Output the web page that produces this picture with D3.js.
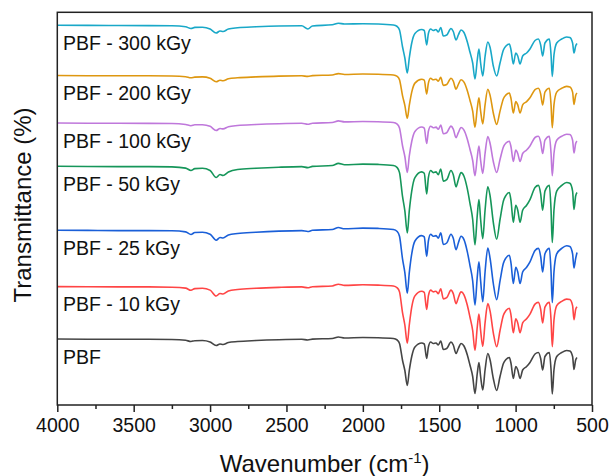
<!DOCTYPE html>
<html lang="en">
  <meta charset="utf-8" />
  <head>
    <title>PBF FTIR</title>
    <script src="https://cdn.jsdelivr.net/npm/d3@7"></script>
    <style>
      body { margin: 0; background: #fff; }
      text { font-family: Arial, "Liberation Sans", sans-serif; fill: #111; }
    </style>
  </head>
  <body>
  <script>
    // DATA
    var wavenumbers = [4000,3800,3600,3400,3250,3160,3125,3100,3050,3000,2960,2935,2915,2880,2820,2700,2550,2400,2360,2330,2200,2160,2120,2000,1900,1800,1775,1760,1740,1725,1709,1696,1680,1659,1615,1598,1582,1571,1556,1539,1521,1506,1490,1473,1451,1423,1408,1390,1375,1357,1338,1316,1299,1281,1266,1251,1240,1229,1215,1200,1182,1167,1146,1124,1102,1080,1063,1041,1030,1015,999,986,971,954,928,906,873,851,836,823,808,779,768,760,749,731,698,666,645,627,618,607,598];

    var t300 = [99.8,99.6,99.5,99.4,99.2,98.2,96.5,97.6,97.8,96,
                92,94,93.5,96,97.2,98.2,99,99.2,96,99,
                100.2,101.8,101,101.2,101,100,98.5,95,78,67,
                52,67,82,91.5,95.5,94.5,80,91.5,96,94.5,
                95.5,93,97.5,89,90,96.5,93.5,85,90,95,
                92.5,83,73,62,46,65,76,62,49,68.5,
                83,77.5,59,49,62,75,79,81,75,61,
                72,69,61,69,72,76,84.5,86,80,69,
                82,86,70,48.5,70,82,86,88,87.5,82,
                72,79,81.5];
    var t200 = [99.5,99.3,99.2,99.2,99.0,98.3,97.2,97.9,98.1,96.7,
                93.3,94.8,94.3,96.2,97.2,98.1,98.9,99.2,98.6,99.4,
                100,101.4,100.5,101,100.8,100,98.6,95.2,79.1,69.6,
                56.7,69.6,82.9,91.9,95.7,94.8,81,91.9,96.7,95.2,
                95.7,93.8,97.6,89.6,90.5,96.7,93.8,85.8,90.5,95.2,
                92.9,84.3,74.8,63.9,47.8,66.8,77.2,63.9,51.1,70.1,
                85.8,79.6,62,50.6,63.9,76.3,80.1,82,76.3,62,
                73.4,70.1,62,70.1,73.4,77.2,85.3,86.7,81,70.1,
                82.9,86.7,70.1,47.3,70.1,82.9,86.7,88.6,88.1,82.9,
                70.5,79.6,82];
    var t100 = [99.5,99.3,99.2,99.1,99.0,98.0,96.8,97.7,97.8,96.2,
                92,94,93.6,95.8,97,98,98.8,99.2,98.2,99.3,
                100,101.6,100.6,101,100.8,100,98.4,94.5,76.5,66,
                50,66.5,81,91,95.5,94.3,79,91.3,96.3,94.8,
                95.4,93.2,97.4,88.8,89.8,96.4,93.4,84.8,89.8,95,
                92.4,83.3,73.3,62,46.7,65.5,76.5,62,49,69,
                86,79,61,50,63,75.5,79.5,81.3,75.5,61,
                72.5,69,61,69,72.5,76.5,85,86.3,80.5,69,
                82.3,86.3,69,46.7,69,82.3,86.3,88.3,88,82.3,
                69.5,79,81.3];
    var t50 = [99.3,99.0,98.9,98.9,98.6,97.4,95,96.9,97.2,95,
               88,91,90,93.5,96,97.2,98.3,98.9,97.9,99.1,
               100,102.1,100.7,101.4,101.1,100,97.9,92.9,68.8,54.6,
               32.5,54.6,74.4,87.9,93.6,92.2,71.6,87.9,95,92.9,
               93.6,90.8,96.4,84.4,85.8,95,90.8,78.7,85.8,92.9,
               89.3,76.6,62.4,46,20.7,50.3,65.9,46,26.9,55.3,
               78.7,69.5,43.2,26.2,46,64.5,70.2,73,64.5,43.2,
               60.2,55.3,43.2,55.3,60.2,65.9,78,80.1,71.6,55.3,
               74.4,80.1,55.3,23,55.3,74.4,80.1,83,82.2,74.4,
               56,69.5,73];
    var t25 = [99.3,99.1,98.9,98.9,98.7,97.6,95,97,97.3,95.3,
               89.3,92,91.5,94.5,96,97.3,98.4,98.9,98,99.2,
               100,102,100.7,101.4,101.1,100,98,93.2,70.3,56.8,
               36.2,56.8,75.7,88.5,93.9,92.6,73,88.5,95.3,93.2,
               93.9,91.2,96.6,85.1,86.5,95.3,91.2,79.7,86.5,93.2,
               89.9,77.7,64.2,48.7,24.5,52.7,67.6,48.7,27.8,57.5,
               81.5,71,46,29.8,48.7,66.2,71.6,74.3,66.2,46,
               62.2,57.5,46,57.5,62.2,67.6,79.1,81.1,73,57.5,
               75.7,81.1,57.5,27,57.5,75.7,81.1,83.8,83.1,75.7,
               61.5,71,77];
    var t10 = [99.4,99.2,99.1,99.1,98.8,97.9,95.7,97.4,97.7,95.9,
               90,92.5,92,95,96.5,97.7,98.6,99.1,98.2,99.3,
               100,101.8,100.6,101.2,100.9,100,98.2,94.1,73.2,61,
               42.7,61,78.9,90.1,94.7,93.6,76.6,90.1,95.9,94.1,
               94.7,92.4,97.1,87.1,88.3,95.9,92.4,82.4,88.3,94.1,
               91.2,80.7,69,55.5,35.6,59,71.9,55.5,39.7,63.1,
               82.4,74.8,53.2,39.2,55.5,70.7,75.4,77.8,70.7,53.2,
               67.2,63.1,53.2,63.1,67.2,71.9,81.9,83.6,76.6,63.1,
               78.9,83.6,65.7,39.3,65.7,80.4,84.7,86.9,86.4,80.4,
               66.2,76.6,79.3];
    var t0 = [99.5,99.3,99.2,99.2,99.0,98.2,97.0,97.8,98.0,96.5,
              93.0,94.5,94.0,96.0,97.0,98.0,98.8,99.2,98.5,99.4,
              100,101.5,100.5,101.0,100.8,100,98.5,95,78,68,
              53,68,82,91.5,95.5,94.5,80,91.5,96.5,95,
              95.5,93.5,97.5,89,90,96.5,93.5,85,90,95,
              92.5,83.5,73.5,62,45,65,76,62,48.5,68.5,
              85,78.5,60,48,62,75,79,81,75,60,
              72,68.5,60,68.5,72,76,84.5,86,80,68.5,
              82,86,68.5,44.5,68.5,82,86,88,87.5,82,
              69,78.5,81];

    var seriesNames = ["PBF - 300 kGy", "PBF - 200 kGy", "PBF - 100 kGy", "PBF - 50 kGy", "PBF - 25 kGy", "PBF - 10 kGy", "PBF"];
    var seriesValues = [t300, t200, t100, t50, t25, t10, t0];
    // vertical stacking offsets (in transmittance units)
    var seriesOffsets = [313.5, 263.5, 216, 173, 109, 52.5, 0];
    var seriesColors = ["#19a8c8", "#de9710", "#bf78db", "#16965a", "#1a5fd8", "#ff4545", "#454545"];

    var majorTicks = [4000, 3500, 3000, 2500, 2000, 1500, 1000, 500];
    var minorTicks = [3750, 3250, 2750, 2250, 1750, 1250, 750];

    // CONFIG
    var width = 609, height = 476;
    var margin = {left: 57.3, right: 17, top: 12.3, bottom: 71};
    var plotW = width - margin.left - margin.right,
        plotH = height - margin.top - margin.bottom;

    var svg = d3.select("body").append("svg")
        .attr("width", width)
        .attr("height", height);

    var x = d3.scaleLinear().domain([4000, 500]).range([margin.left, margin.left + plotW]);
    var y = d3.scaleLinear().domain([33.5, 426.2]).range([margin.top + plotH, margin.top]);

    var line = d3.line()
        .x((d) => x(d[0]))
        .y((d) => y(d[1]))
        .curve(d3.curveMonotoneX);

    // spectra
    seriesValues.forEach(function (vals, i) {
      var pts = wavenumbers.map((w, j) => [w, vals[j] + seriesOffsets[i]]);
      svg.append("path")
        .datum(pts)
        .attr("d", line)
        .attr("fill", "none")
        .attr("stroke", seriesColors[i])
        .attr("stroke-width", 1.6)
        .attr("stroke-linejoin", "round");

      svg.append("text")
        .attr("x", 63)
        .attr("y", y(100 + seriesOffsets[i]) + 25)
        .style("font-size", "19.5px")
        .text(seriesNames[i]);
    });

    // frame
    svg.append("rect")
      .attr("x", margin.left)
      .attr("y", margin.top)
      .attr("width", plotW)
      .attr("height", plotH)
      .attr("fill", "none")
      .attr("stroke", "#222")
      .attr("stroke-width", 1.5);

    // x axis
    var xAxis = svg.append("g")
      .attr("transform", `translate(0,${margin.top + plotH})`)
      .call(d3.axisBottom(x).tickValues(majorTicks).tickSize(7).tickSizeOuter(0).tickPadding(6).tickFormat(d3.format("d")));
    xAxis.select(".domain").remove();
    xAxis.selectAll("line").attr("stroke", "#222").attr("stroke-width", 1.5);
    xAxis.selectAll("text")
      .style("font-size", "19.5px")
      .style("font-family", "Arial, 'Liberation Sans', sans-serif")
      .attr("fill", "#111");

    var xMinor = svg.append("g")
      .attr("transform", `translate(0,${margin.top + plotH})`)
      .call(d3.axisBottom(x).tickValues(minorTicks).tickSize(4).tickFormat(""));
    xMinor.select(".domain").remove();
    xMinor.selectAll("line").attr("stroke", "#222").attr("stroke-width", 1.5);

    // axis titles
    var xTitle = svg.append("text")
      .attr("x", margin.left + plotW / 2)
      .attr("y", 472)
      .attr("text-anchor", "middle")
      .style("font-size", "24px");
    xTitle.append("tspan").text("Wavenumber (cm");
    xTitle.append("tspan").attr("dy", -9).style("font-size", "15px").text("-1");
    xTitle.append("tspan").attr("dy", 9).text(")");

    svg.append("text")
      .attr("transform", `translate(31,205) rotate(-90)`)
      .attr("text-anchor", "middle")
      .style("font-size", "24px")
      .text("Transmittance (%)");
  </script>
  </body>
</html>
